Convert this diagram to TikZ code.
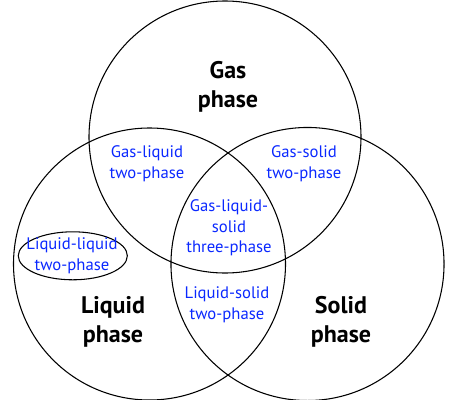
\documentclass[tikz,border=0pt]{standalone}
\usepackage{fontspec}
\setmainfont{PT Sans}
\usepackage{tikz}
\usetikzlibrary{positioning}
\definecolor{phaseblue}{RGB}{10,40,255}
\tikzset{
  phase/.style={font=\fontsize{18}{21.8}\selectfont\bfseries, align=center, inner sep=0pt},
  mix/.style={font=\fontsize{12.5}{15.5}\selectfont, text=phaseblue, align=center, inner sep=0pt}
}

\begin{document}
\begin{tikzpicture}[x=0.75pt,y=-0.75pt]
    \useasboundingbox (0,0) rectangle (450,400);
    % three phase circles
    \draw[line width=0.8pt] (225,137) circle[radius=102pt]; %gas
    \draw[line width=0.8pt] (149.5,264) circle[radius=102pt]; %liquid
    \draw[line width=0.8pt] (307.5,264) circle[radius=102.4pt]; %solid
    \draw[line width=0.8pt] (72.8,255.8) ellipse[x radius=40.9pt, y radius=18pt];
    % single phases
    \node[phase] (gas) at (228,87) {Gas\\phase};
    \node[phase] (liquid) at (113,322) {Liquid\\phase};
    \node[phase] (solid) at (341,322) {Solid\\phase};
    % mixtures
    \node[mix] (gasliquid) at (147,164) {Gas-liquid\\two-phase};
    \node[mix] (gassolid) at (304,164) {Gas-solid\\two-phase};
    \node[mix] (three) at (229,228) {Gas-liquid-\\solid\\three-phase};
    \node[mix] (liqliq) at (72,256) {Liquid-liquid\\two-phase};
    \node[mix] (liqsolid) at (227,305) {Liquid-solid\\two-phase};
\end{tikzpicture}
\end{document}
